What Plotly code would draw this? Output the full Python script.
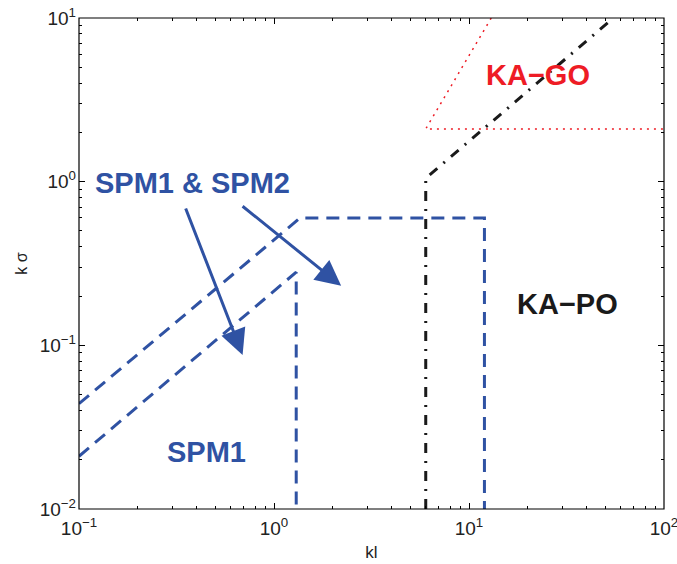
import plotly.graph_objects as go
import numpy as np

# Region boundaries in (kl, k sigma) space
spm2_kl = [0.1, 1.36, 12.0, 12.0]
spm2_ks = [0.044, 0.6, 0.6, 0.01]

spm1_kl = [0.1, 1.3, 1.3]
spm1_ks = [0.021, 0.28, 0.01]

kapo_kl = [6.0, 6.0, 55.0]
kapo_ks = [0.01, 1.05, 10.0]

kago_kl = [13.0, 6.0, 100.0]
kago_ks = [10.0, 2.1, 2.1]

tick_vals_x = [0.1, 1, 10, 100]
tick_text_x = ["10<sup>−1</sup>", "10<sup>0</sup>", "10<sup>1</sup>", "10<sup>2</sup>"]
tick_vals_y = [0.01, 0.1, 1, 10]
tick_text_y = ["10<sup>−2</sup>", "10<sup>−1</sup>", "10<sup>0</sup>", "10<sup>1</sup>"]

BLUE = "#2F52A3"
RED = "#EE1C25"
BLACK = "#1A1A1A"
FONT = "Liberation Sans"


def minor_vals(decades):
    return [m * 10.0 ** d for d in decades for m in range(2, 10)]


fig = go.Figure()
fig.add_trace(go.Scatter(x=spm2_kl, y=spm2_ks, mode="lines",
                         line=dict(color=BLUE, width=3, dash="13px,8px")))
fig.add_trace(go.Scatter(x=spm1_kl, y=spm1_ks, mode="lines",
                         line=dict(color=BLUE, width=3, dash="13px,8px")))
fig.add_trace(go.Scatter(x=kapo_kl, y=kapo_ks, mode="lines",
                         line=dict(color=BLACK, width=3, dash="10px,8px,2px,8px")))
fig.add_trace(go.Scatter(x=kago_kl, y=kago_ks, mode="lines",
                         line=dict(color=RED, width=1.5, dash="2px,5px")))

# arrows: (tail, tip) in data coordinates
arrows = [((0.35, 0.70), (0.69, 0.0874)),
          ((0.678, 0.72), (2.21, 0.231))]
for (tx, ty), (hx, hy) in arrows:
    fig.add_annotation(x=np.log10(hx), y=np.log10(hy), ax=np.log10(tx), ay=np.log10(ty),
                       xref="x", yref="y", axref="x", ayref="y", text="",
                       showarrow=True, arrowhead=2, arrowsize=1.7, arrowwidth=3,
                       arrowcolor=BLUE, standoff=0, startstandoff=0)

labels = [("SPM1 & SPM2", 0.38, 0.98, BLUE),
          ("SPM1", 0.453, 0.0223, BLUE),
          ("KA−PO", 32.0, 0.179, BLACK),
          ("KA−GO", 22.6, 4.49, RED)]
for txt, x, y, c in labels:
    fig.add_annotation(x=np.log10(x), y=np.log10(y), xref="x", yref="y", text=txt,
                       showarrow=False,
                       font=dict(family=FONT, size=29, color=c, weight="bold"))

# plot frame
fig.add_shape(type="rect", xref="paper", yref="paper", x0=0, y0=0, x1=1, y1=1,
              line=dict(color="#000000", width=1.2), layer="above")

axis_common = dict(type="log", showgrid=False, zeroline=False, showline=False,
                   mirror="allticks",
                   ticks="inside", ticklen=6, tickcolor="#000000", tickwidth=1,
                   ticklabeloverflow="allow", automargin=False,
                   tickfont=dict(family=FONT, size=19, color="#222"))
fig.update_xaxes(**axis_common, range=[-1, 2], tickvals=tick_vals_x, ticktext=tick_text_x,
                 ticklabelstandoff=6,
                 minor=dict(ticks="inside", ticklen=3, tickcolor="#000000", tickwidth=1,
                            showgrid=False, tickvals=minor_vals([-1, 0, 1])),
                 title=dict(text="kl", font=dict(family=FONT, size=17, color="#222"),
                            standoff=8))
fig.update_yaxes(**axis_common, range=[-2, 1], tickvals=tick_vals_y, ticktext=tick_text_y,
                 ticklabelstandoff=2,
                 minor=dict(ticks="inside", ticklen=3, tickcolor="#000000", tickwidth=1,
                            showgrid=False, tickvals=minor_vals([-2, -1, 0])),
                 title=dict(text="k σ", font=dict(family=FONT, size=16, color="#222"),
                            standoff=8))

fig.update_layout(width=677, height=564, showlegend=False,
                  margin=dict(l=79, r=13, t=18, b=55),
                  plot_bgcolor="white", paper_bgcolor="white")
fig.write_html("out.html")
